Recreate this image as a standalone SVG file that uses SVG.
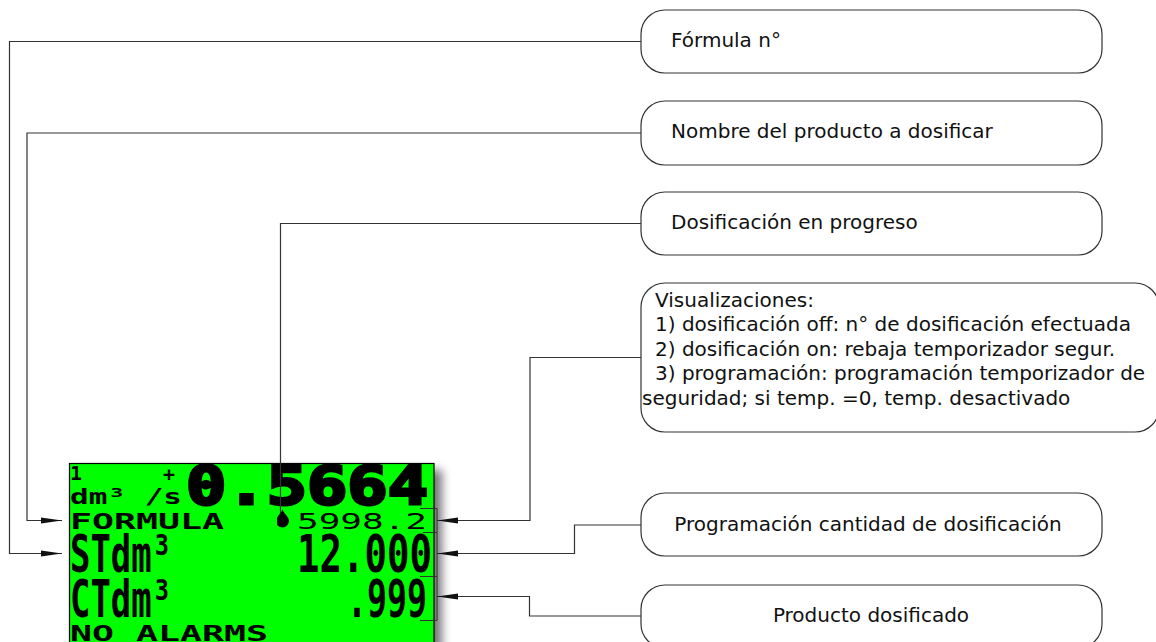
<svg xmlns="http://www.w3.org/2000/svg" width="1156" height="642" viewBox="0 0 1156 642">
  <style>
    .box { fill: #ffffff; stroke: #333333; stroke-width: 1.2; }
    .lbl { font-family: "DejaVu Sans", "Liberation Sans", sans-serif; font-size: 20px; fill: #111111; }
    .conn { fill: none; stroke: #333333; stroke-width: 1.2; }
    .lcd { font-family: "DejaVu Sans Mono", "Liberation Mono", monospace; fill: #000000; font-weight: bold; }
    .thin { font-weight: normal; }
  </style>
  <defs>
    <marker id="arrow" markerUnits="userSpaceOnUse" markerWidth="22" markerHeight="8" refX="21" refY="4" orient="auto">
      <path d="M0,1 L21,4 L0,7 Z" fill="#111111"/>
    </marker>
    <marker id="dot" markerUnits="userSpaceOnUse" markerWidth="14" markerHeight="20" refX="4" refY="18.5" orient="0">
      <path d="M6,1 C7,5 12.5,8 12.5,12.5 A6.5,6.5 0 0 1 -0.5,12.5 C-0.5,8 5,5 6,1 Z" fill="#000000"/>
    </marker>
    <filter id="shadow" x="-10%" y="-10%" width="130%" height="130%">
      <feGaussianBlur stdDeviation="5"/>
    </filter>
  </defs>
  <rect width="1156" height="642" fill="#ffffff"/>

  <g id="lcd">
    <rect x="76" y="470" width="366" height="200" fill="#777777" filter="url(#shadow)"/>
    <rect x="69.5" y="463.5" width="364.5" height="200" fill="#00ff00" stroke="#000000" stroke-width="1.2"/>
    <text class="lcd" x="70" y="480" font-size="20">1</text>
    <text class="lcd" x="163" y="481" font-size="20">+</text>
    <text class="lcd" x="186" y="504" font-size="54" textLength="242" lengthAdjust="spacingAndGlyphs" stroke="#000000" stroke-width="3">0.5664</text>
    <text class="lcd" x="70" y="504" font-size="22" textLength="112" lengthAdjust="spacingAndGlyphs">dm³ /s</text>
    <text class="lcd" x="70" y="529" font-size="22" textLength="154" lengthAdjust="spacingAndGlyphs">FORMULA</text>
    <text class="lcd thin" x="297" y="529" font-size="22" textLength="130" lengthAdjust="spacingAndGlyphs">5998.2</text>
    <text class="lcd" x="70" y="572" font-size="52" textLength="102" lengthAdjust="spacingAndGlyphs">STdm³</text>
    <text class="lcd" x="297" y="572" font-size="52" textLength="135" lengthAdjust="spacingAndGlyphs">12.000</text>
    <text class="lcd" x="70" y="617" font-size="52" textLength="102" lengthAdjust="spacingAndGlyphs">CTdm³</text>
    <text class="lcd" x="347" y="617" font-size="52" textLength="80" lengthAdjust="spacingAndGlyphs">.999</text>
    <text class="lcd" x="70" y="641" font-size="22" textLength="198" lengthAdjust="spacingAndGlyphs">NO ALARMS</text>
    <path d="M420,508.5 H437 V620.5 H420 M423,532.5 H437 M420,576.5 H437" fill="none" stroke="#333333" stroke-width="1"/>
  </g>

  <g id="connectors">
    <path class="conn" d="M641,41.5 H9.5 V553.5 H62" marker-end="url(#arrow)"/>
    <path class="conn" d="M641,133 H27 V520.5 H62" marker-end="url(#arrow)"/>
    <path class="conn" d="M641,223.5 H280.5 V527" marker-end="url(#dot)"/>
    <path class="conn" d="M641,357.5 H530 V520.5 H437" marker-end="url(#arrow)"/>
    <path class="conn" d="M641,525 H574.5 V553.5 H437" marker-end="url(#arrow)"/>
    <path class="conn" d="M641,616 H529.5 V596.5 H437" marker-end="url(#arrow)"/>
  </g>

  <g id="formula">
    <rect class="box" x="641" y="10" width="461" height="63" rx="24" ry="24"/>
    <text class="lbl" x="671" y="47">Fórmula n°</text>
  </g>
  <g id="nombre">
    <rect class="box" x="641" y="101" width="461" height="64" rx="24" ry="24"/>
    <text class="lbl" x="671" y="138">Nombre del producto a dosificar</text>
  </g>
  <g id="dosificacion">
    <rect class="box" x="641" y="192" width="461" height="63" rx="24" ry="24"/>
    <text class="lbl" x="671" y="229">Dosificación en progreso</text>
  </g>
  <g id="visualizaciones">
    <rect class="box" x="641" y="283" width="518" height="149" rx="24" ry="24"/>
    <text class="lbl" x="655" y="307">Visualizaciones:</text>
    <text class="lbl" x="655" y="331">1) dosificación off: n° de dosificación efectuada</text>
    <text class="lbl" x="655" y="355.5">2) dosificación on: rebaja temporizador segur.</text>
    <text class="lbl" x="655" y="380">3) programación: programación temporizador de</text>
    <text class="lbl" x="642" y="404.5">seguridad; si temp. =0, temp. desactivado</text>
  </g>
  <g id="programacion">
    <rect class="box" x="641" y="493" width="461" height="63" rx="24" ry="24"/>
    <text class="lbl" x="868" y="531" text-anchor="middle">Programación cantidad de dosificación</text>
  </g>
  <g id="producto">
    <rect class="box" x="641" y="585" width="461" height="63" rx="24" ry="24"/>
    <text class="lbl" x="871" y="622" text-anchor="middle">Producto dosificado</text>
  </g>
</svg>
